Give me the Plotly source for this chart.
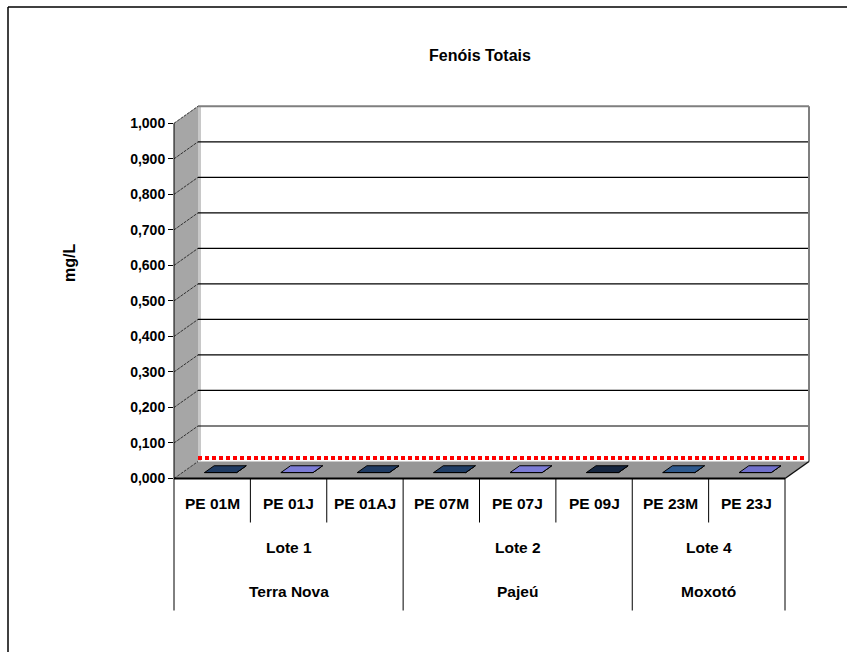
import plotly.graph_objects as go

# ---------------- data ----------------
samples = ["PE 01M", "PE 01J", "PE 01AJ", "PE 07M", "PE 07J", "PE 09J", "PE 23M", "PE 23J"]
lots = ["Lote 1", "Lote 1", "Lote 1", "Lote 2", "Lote 2", "Lote 2", "Lote 4", "Lote 4"]
basins = ["Terra Nova", "Terra Nova", "Terra Nova", "Pajeú", "Pajeú", "Pajeú", "Moxotó", "Moxotó"]
phenols_mg_l = [0.000, 0.000, 0.000, 0.000, 0.000, 0.000, 0.000, 0.000]
limit_mg_l = 0.010
y_ticks = [0.0, 0.1, 0.2, 0.3, 0.4, 0.5, 0.6, 0.7, 0.8, 0.9, 1.0]

# ---------------- styles ----------------
bar_colors = ["#1F3B63", "#7C7CD6", "#1F3B63", "#203E66", "#7C7CD6", "#152640", "#2E5A8E", "#7070CC"]
FONT = "Liberation Sans, Arial, sans-serif"
FS_TICK = 14
FS_CAT = 15.5
FS_TITLE = 16

# ---------------- geometry (pixels) ----------------
W, H = 847, 652
PL, PR, PT, PB = 174, 812, 100, 488          # plot area
X0_PX, UX = 174.0, 76.375                      # x = -0.5 at X0_PX, px per category
Y0_PX, UY = 478.5, 355.2                       # y = 0 at Y0_PX, px per mg/L
DEPTH_DX_PX, DEPTH_DY_PX = 24.0, 17.0          # oblique depth of the 3-D box
DX, DY = DEPTH_DX_PX / UX, DEPTH_DY_PX / UY    # depth in data units

n = len(samples)
x_lo, x_hi = -0.5, n - 0.5
y_top = y_ticks[-1]

x_range = [x_lo, x_lo + (PR - PL) / UX]
y_range = [-(PB - Y0_PX) / UY, (Y0_PX - PT) / UY]


def pt(x, y, z):
    """Data point of (category x, value y) at depth z (0 = front, 1 = back)."""
    return (x + z * DX, y + z * DY)


def to_px(p):
    return (X0_PX + (p[0] - x_lo) * UX, Y0_PX - p[1] * UY)


def paper(px, py):
    return ((px - PL) / (PR - PL), (PB - py) / (PB - PT))


def p2paper(p):
    return paper(*to_px(p))


shapes = []


def poly(points, fill, line_color=None, width=0):
    s = []
    for i, p in enumerate(points):
        u, v = p2paper(p)
        s.append(("M" if i == 0 else "L") + f"{u:.5f},{v:.5f}")
    shapes.append(dict(type="path", path=" ".join(s) + " Z", xref="paper", yref="paper",
                       fillcolor=fill, line=dict(color=line_color or fill, width=width),
                       layer="below"))


def seg(p0, p1, color, width, dash=None, dpx=(0, 0)):
    a = to_px(p0)
    b = to_px(p1)
    u0, v0 = paper(a[0] + dpx[0], a[1] + dpx[1])
    u1, v1 = paper(b[0] + dpx[0], b[1] + dpx[1])
    shapes.append(dict(type="line", xref="paper", yref="paper", x0=u0, y0=v0, x1=u1, y1=v1,
                       line=dict(color=color, width=width, dash=dash), layer="below"))


def pseg(px0, py0, px1, py1, color, width):
    u0, v0 = paper(px0, py0)
    u1, v1 = paper(px1, py1)
    shapes.append(dict(type="line", xref="paper", yref="paper", x0=u0, y0=v0, x1=u1, y1=v1,
                       line=dict(color=color, width=width), layer="below"))


# ---- 3-D walls ----
poly([pt(x_lo, 0, 1), pt(x_hi, 0, 1), pt(x_hi, y_top, 1), pt(x_lo, y_top, 1)], "#FFFFFF")
poly([pt(x_lo, 0, 0), pt(x_lo, y_top, 0), pt(x_lo, y_top, 1), pt(x_lo, 0, 1)], "#A6A6A6")
poly([pt(x_lo, 0, 0), pt(x_hi, 0, 0), pt(x_hi, 0, 1), pt(x_lo, 0, 1)], "#969696")
seg(pt(x_lo, 0, 1), pt(x_lo, y_top, 1), "#C8C8C8", 3, dpx=(1.5, 0))

# gridlines: back wall + slanted lines on the side wall
for t in y_ticks:
    if 0 < t < y_top:
        seg(pt(x_lo, t, 1), pt(x_hi, t, 1), "#000000", 1.2)
    seg(pt(x_lo, t, 0), pt(x_lo, t, 1), "#333333", 1, dash="3px,1px")
seg(pt(x_lo, y_top, 1), pt(x_hi, y_top, 1), "#7F7F7F", 2)
seg(pt(x_hi, 0, 1), pt(x_hi, y_top, 1), "#7F7F7F", 2)

# floor edges and front value axis line
seg(pt(x_hi, 0, 0), pt(x_hi, 0, 1), "#111111", 1.5)
seg(pt(x_lo, 0, 0), pt(x_lo, y_top, 0), "#000000", 1)
seg(pt(x_lo, 0, 0), pt(x_hi, 0, 0), "#000000", 2)

# ---- category table (three levels) ----
ROW_H = 44.0
row_bottom = [Y0_PX + ROW_H * (k + 1) for k in range(3)]
row_center = [Y0_PX + ROW_H * (k + 0.5) + 3 for k in range(3)]

for k in range(n + 1):
    xb = x_lo + k
    if k == 0 or k == n or basins[k] != basins[k - 1]:
        depth = 2
    elif lots[k] != lots[k - 1]:
        depth = 1
    else:
        depth = 0
    px0, _ = to_px((xb, 0))
    pseg(px0, Y0_PX, px0, row_bottom[depth], "#000000", 1)

annotations = []


def text_at(text, px, py, size, angle=0):
    u, v = paper(px, py)
    annotations.append(dict(text=f"<b>{text}</b>", x=u, y=v, xref="paper", yref="paper",
                            showarrow=False, xanchor="center", yanchor="middle", textangle=angle,
                            font=dict(family=FONT, size=size, color="#000000")))


def runs(values):
    out, start = [], 0
    for i in range(1, len(values) + 1):
        if i == len(values) or values[i] != values[start]:
            out.append((values[start], start, i - 1))
            start = i
    return out


for i, s in enumerate(samples):
    text_at(s, to_px((i, 0))[0], row_center[0], FS_CAT)
for level, vals in ((1, lots), (2, basins)):
    for name, a, b in runs(vals):
        text_at(name, to_px(((a + b) / 2, 0))[0], row_center[level], FS_CAT)

# title and value-axis title
text_at("Fenóis Totais", 480, 56, FS_TITLE)
text_at("mg/L", 69, 263, FS_TITLE, angle=-90)

# outer chart frame (left and top edges)
for a, b in (((8, 7), (8, 700)), ((8, 7), (900, 7))):
    u0, v0 = paper(*a)
    u1, v1 = paper(*b)
    shapes.append(dict(type="line", xref="paper", yref="paper", x0=u0, y0=v0, x1=u1, y1=v1,
                       line=dict(color="#000000", width=1.5), layer="above"))

# ---------------- traces ----------------
fig = go.Figure()

# limit line along the back wall
lx0, ly = pt(x_lo, limit_mg_l, 1)
lx1, _ = pt(x_hi - 0.05, limit_mg_l, 1)
fig.add_trace(go.Scatter(x=[lx0, lx1], y=[ly, ly], mode="lines", hoverinfo="skip",
                         line=dict(color="#FF0000", width=4, dash="4px,3px"), showlegend=False))

# 3-D columns: front face, right side and top face
BAR_W, Z0, Z1 = 0.42, 0.35, 0.75
for i, (val, col) in enumerate(zip(phenols_mg_l, bar_colors)):
    xl, xr = i - BAR_W / 2, i + BAR_W / 2
    faces = [
        [pt(xl, 0, Z0), pt(xr, 0, Z0), pt(xr, val, Z0), pt(xl, val, Z0)],
        [pt(xr, 0, Z0), pt(xr, 0, Z1), pt(xr, val, Z1), pt(xr, val, Z0)],
        [pt(xl, val, Z0), pt(xr, val, Z0), pt(xr, val, Z1), pt(xl, val, Z1)],
    ]
    for face in faces:
        xs = [p[0] for p in face] + [face[0][0]]
        ys = [p[1] for p in face] + [face[0][1]]
        fig.add_trace(go.Scatter(x=xs, y=ys, mode="lines", fill="toself", fillcolor=col,
                                 line=dict(color="#000000", width=1), hoverinfo="skip",
                                 showlegend=False))

fig.update_layout(
    width=W, height=H,
    margin=dict(l=PL, r=W - PR, t=PT, b=H - PB, autoexpand=False),
    paper_bgcolor="#FFFFFF", plot_bgcolor="rgba(0,0,0,0)",
    separators=",.",
    showlegend=False,
    xaxis=dict(range=x_range, visible=False, fixedrange=True),
    yaxis=dict(range=y_range, tickvals=y_ticks, tickformat=".3f", ticks="outside", ticklen=5,
               tickcolor="#000000", tickwidth=1, showgrid=False, zeroline=False, showline=False,
               tickfont=dict(family=FONT, size=FS_TICK, color="#000000", weight="bold"),
               fixedrange=True),
    shapes=shapes,
    annotations=annotations,
)

fig.write_html("out.html")
